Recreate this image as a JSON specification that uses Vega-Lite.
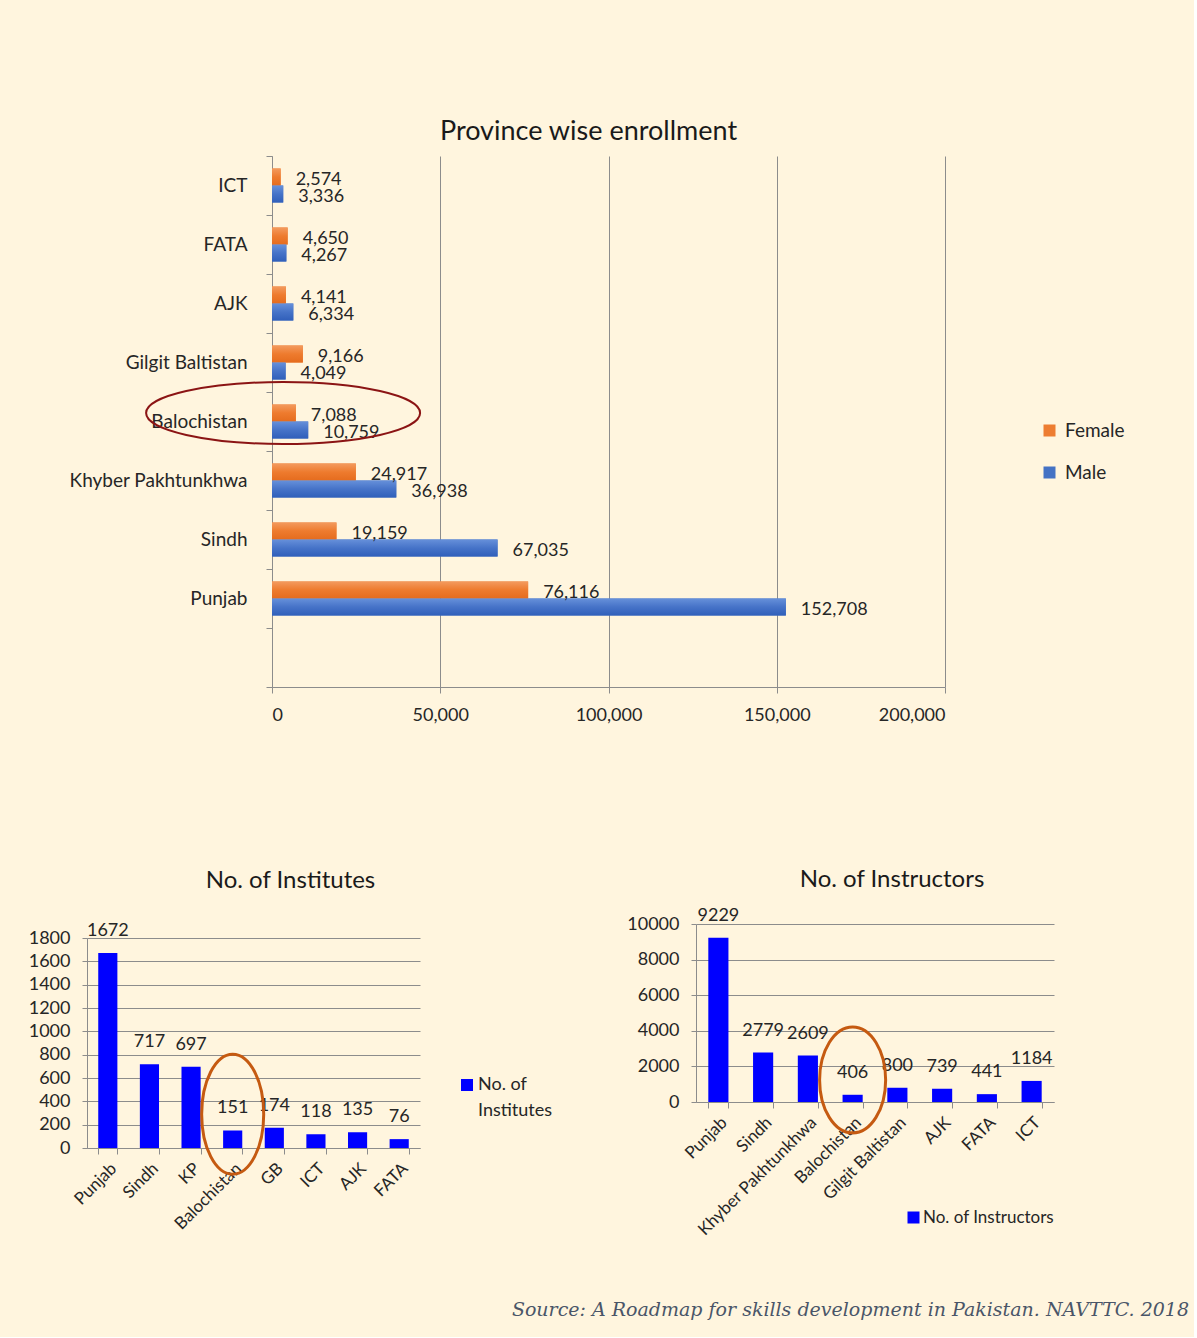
{
  "$schema": "https://vega.github.io/schema/vega-lite/v6.json",
  "background": "#FFF5DE",
  "padding": {"left": 28, "top": 118, "right": 5, "bottom": 16},
  "datasets": {
    "enrollment": [
      {"province": "ICT", "gender": "Female", "count": 2574},
      {"province": "ICT", "gender": "Male", "count": 3336},
      {"province": "FATA", "gender": "Female", "count": 4650},
      {"province": "FATA", "gender": "Male", "count": 4267},
      {"province": "AJK", "gender": "Female", "count": 4141},
      {"province": "AJK", "gender": "Male", "count": 6334},
      {"province": "Gilgit Baltistan", "gender": "Female", "count": 9166},
      {"province": "Gilgit Baltistan", "gender": "Male", "count": 4049},
      {"province": "Balochistan", "gender": "Female", "count": 7088},
      {"province": "Balochistan", "gender": "Male", "count": 10759},
      {"province": "Khyber Pakhtunkhwa", "gender": "Female", "count": 24917},
      {"province": "Khyber Pakhtunkhwa", "gender": "Male", "count": 36938},
      {"province": "Sindh", "gender": "Female", "count": 19159},
      {"province": "Sindh", "gender": "Male", "count": 67035},
      {"province": "Punjab", "gender": "Female", "count": 76116},
      {"province": "Punjab", "gender": "Male", "count": 152708}
    ],
    "institutes": [
      {"province": "Punjab", "value": 1672},
      {"province": "Sindh", "value": 717},
      {"province": "KP", "value": 697},
      {"province": "Balochistan", "value": 151},
      {"province": "GB", "value": 174},
      {"province": "ICT", "value": 118},
      {"province": "AJK", "value": 135},
      {"province": "FATA", "value": 76}
    ],
    "instructors": [
      {"province": "Punjab", "value": 9229},
      {"province": "Sindh", "value": 2779},
      {"province": "Khyber Pakhtunkhwa", "value": 2609},
      {"province": "Balochistan", "value": 406},
      {"province": "Gilgit Baltistan", "value": 800},
      {"province": "AJK", "value": 739},
      {"province": "FATA", "value": 441},
      {"province": "ICT", "value": 1184}
    ]
  },
  "title": {
    "text": "Source: A Roadmap for skills development in Pakistan. NAVTTC. 2018",
    "orient": "bottom",
    "anchor": "end",
    "frame": "bounds",
    "font": "DejaVu Serif",
    "fontStyle": "italic",
    "fontSize": 19,
    "fontWeight": "normal",
    "color": "#4A5568",
    "offset": 63,
    "dx": 64
  },
  "spacing": 143,
  "resolve": {"scale": {"color": "independent"}, "legend": {"color": "independent"}},
  "vconcat": [
    {
      "spacing": -20,
      "resolve": {"scale": {"color": "independent"}, "legend": {"color": "independent"}},
      "hconcat": [
        {
          "width": 1,
          "height": 1,
          "data": {"values": []},
          "mark": "text",
          "encoding": {}
        },
        {
          "width": 673,
          "height": 531,
          "title": {"text": "Province wise enrollment", "fontSize": 27, "anchor": "middle", "dx": -20, "offset": 1},
          "data": {"name": "enrollment"},
          "encoding": {
            "y": {
              "field": "province",
              "type": "nominal",
              "scale": {
                "domain": ["ICT", "FATA", "AJK", "Gilgit Baltistan", "Balochistan", "Khyber Pakhtunkhwa", "Sindh", "Punjab", " "],
                "paddingInner": 0,
                "paddingOuter": 0
              },
              "axis": {"title": null, "tickBand": "extent", "tickSize": 6, "labelFontSize": 19, "labelPadding": 19, "grid": false}
            },
            "yOffset": {
              "field": "gender",
              "type": "nominal",
              "sort": ["Female", "Male"],
              "scale": {"paddingInner": 0, "paddingOuter": 0.735}
            },
            "x": {
              "field": "count",
              "type": "quantitative",
              "scale": {"domain": [0, 200000], "nice": false},
              "axis": {"title": null, "values": [0, 50000, 100000, 150000, 200000], "format": ",.0f", "grid": true, "tickSize": 6, "labelFontSize": 18, "labelPadding": 13}
            }
          },
          "layer": [
            {
              "mark": {"type": "bar"},
              "encoding": {
                "color": {
                  "field": "gender",
                  "type": "nominal",
                  "scale": {"domain": ["Female", "Male"], "range": ["#ED7D31", "#4472C4"]},
                  "legend": {"title": null, "orient": "none", "legendX": 768, "legendY": 265, "symbolType": "square", "symbolSize": 144, "symbolStrokeWidth": 0, "labelFontSize": 19, "rowPadding": 22, "padding": 0, "labelOffset": 6}
                }
              }
            },
            {
              "transform": [{"filter": "datum.gender === 'Female'"}],
              "mark": {
                "type": "bar",
                "color": {"gradient": "linear", "x1": 0, "y1": 0, "x2": 0, "y2": 1,
                  "stops": [{"offset": 0, "color": "#F39A5E"}, {"offset": 0.5, "color": "#EE7B2E"}, {"offset": 1, "color": "#E56C1E"}]}
              }
            },
            {
              "transform": [{"filter": "datum.gender === 'Male'"}],
              "mark": {
                "type": "bar",
                "color": {"gradient": "linear", "x1": 0, "y1": 0, "x2": 0, "y2": 1,
                  "stops": [{"offset": 0, "color": "#6690DA"}, {"offset": 0.5, "color": "#4673C8"}, {"offset": 1, "color": "#305FBA"}]}
              }
            },
            {
              "mark": {"type": "text", "align": "left", "baseline": "middle", "dx": 15, "dy": 3, "fontSize": 18, "color": "#262626"},
              "encoding": {"text": {"field": "count", "type": "quantitative", "format": ",.0f"}}
            },
            {
              "data": {"values": [{"province": "Balochistan", "gender": "Female", "count": 3300}]},
              "mark": {
                "type": "point",
                "shape": "M1,0C1,0.125,0.552,0.226,0,0.226C-0.552,0.226,-1,0.125,-1,0C-1,-0.125,-0.552,-0.226,0,-0.226C0.552,-0.226,1,-0.125,1,0Z",
                "size": 75076,
                "filled": false,
                "stroke": "#8B1414",
                "strokeWidth": 2,
                "opacity": 1
              }
            }
          ]
        }
      ]
    },
    {
      "spacing": 73,
      "resolve": {"scale": {"color": "independent"}, "legend": {"color": "independent"}},
      "hconcat": [
        {
          "spacing": -57,
          "resolve": {"scale": {"color": "independent"}, "legend": {"color": "independent"}},
          "vconcat": [
            {
              "width": 1,
              "height": 1,
              "data": {"values": []},
              "mark": "text",
              "encoding": {}
            },
            {
              "width": 333,
              "height": 210,
              "title": {"text": "No. of Institutes", "fontSize": 24, "anchor": "middle", "dx": 37, "offset": 29},
              "data": {"name": "institutes"},
              "encoding": {
                "x": {
                  "field": "province",
                  "type": "nominal",
                  "sort": null,
                  "scale": {"paddingInner": 0.54, "paddingOuter": 0.27},
                  "axis": {"title": null, "labelAngle": -45, "tickBand": "extent", "tickSize": 6, "labelFontSize": 17, "labelPadding": 6}
                },
                "y": {
                  "field": "value",
                  "type": "quantitative",
                  "scale": {"domain": [0, 1800], "nice": false},
                  "axis": {"title": null, "values": [0, 200, 400, 600, 800, 1000, 1200, 1400, 1600, 1800], "format": "d", "grid": true, "tickSize": 5, "labelFontSize": 18, "labelPadding": 12}
                }
              },
              "layer": [
                {
                  "mark": {"type": "bar"},
                  "encoding": {
                    "color": {
                      "datum": "No. of Institutes",
                      "scale": {"range": ["#0000FF"]},
                      "legend": {
                        "title": null, "orient": "none", "legendX": 371, "legendY": 138,
                        "symbolType": "square", "symbolSize": 144, "symbolStrokeWidth": 0,
                        "labelFontSize": 18, "padding": 0, "labelOffset": 2, "labelLimit": 200,
                        "labelExpr": "['No. of', 'Institutes']", "labelBaseline": "top",
                        "encode": {"labels": {"update": {"dy": {"value": -9}, "lineHeight": {"value": 26}}}}
                      }
                    }
                  }
                },
                {
                  "mark": {"type": "text", "baseline": "middle", "dy": -22, "fontSize": 18, "color": "#262626"},
                  "encoding": {"text": {"field": "value", "type": "quantitative", "format": "d"}}
                },
                {
                  "data": {"values": [{"province": "Balochistan", "value": 290}]},
                  "mark": {
                    "type": "point",
                    "shape": "M0.517,0C0.517,0.552,0.285,1,0,1C-0.285,1,-0.517,0.552,-0.517,0C-0.517,-0.552,-0.285,-1,0,-1C0.285,-1,0.517,-0.552,0.517,0Z",
                    "size": 14400,
                    "filled": false,
                    "stroke": "#C55A11",
                    "strokeWidth": 3,
                    "opacity": 1
                  }
                }
              ]
            }
          ]
        },
        {
          "width": 358,
          "height": 178,
          "title": {"text": "No. of Instructors", "fontSize": 24, "anchor": "middle", "dx": 17, "offset": 15},
          "data": {"name": "instructors"},
          "encoding": {
            "x": {
              "field": "province",
              "type": "nominal",
              "sort": null,
              "scale": {"paddingInner": 0.55, "paddingOuter": 0.275},
              "axis": {"title": null, "labelAngle": -45, "tickBand": "extent", "tickSize": 6, "labelFontSize": 17, "labelPadding": 6}
            },
            "y": {
              "field": "value",
              "type": "quantitative",
              "scale": {"domain": [0, 10000], "nice": false},
              "axis": {"title": null, "values": [0, 2000, 4000, 6000, 8000, 10000], "format": "d", "grid": true, "tickSize": 5, "labelFontSize": 18, "labelPadding": 12}
            }
          },
          "layer": [
            {
              "mark": {"type": "bar"},
              "encoding": {
                "color": {
                  "datum": "No. of Instructors",
                  "scale": {"range": ["#0000FF"]},
                  "legend": {"title": null, "orient": "none", "legendX": 209, "legendY": 285, "symbolType": "square", "symbolSize": 144, "symbolStrokeWidth": 0, "labelFontSize": 17, "padding": 0, "labelOffset": 1, "labelLimit": 300}
                }
              }
            },
            {
              "mark": {"type": "text", "baseline": "middle", "dy": -22, "fontSize": 18, "color": "#262626"},
              "encoding": {"text": {"field": "value", "type": "quantitative", "format": "d"}}
            },
            {
              "data": {"values": [{"province": "Balochistan", "value": 1240}]},
              "mark": {
                "type": "point",
                "shape": "M0.623,0C0.623,0.552,0.344,1,0,1C-0.344,1,-0.623,0.552,-0.623,0C-0.623,-0.552,-0.344,-1,0,-1C0.344,-1,0.623,-0.552,0.623,0Z",
                "size": 11236,
                "filled": false,
                "stroke": "#C55A11",
                "strokeWidth": 3,
                "opacity": 1
              }
            }
          ]
        }
      ]
    }
  ],
  "config": {
    "font": "Lato",
    "view": {"stroke": null},
    "axis": {
      "labelColor": "#262626",
      "labelFont": "Lato",
      "domainColor": "#8C8C8C",
      "tickColor": "#8C8C8C",
      "gridColor": "#8C8C8C"
    },
    "title": {"font": "Lato", "fontWeight": "normal", "color": "#1A1A1A"},
    "legend": {"labelFont": "Lato", "labelColor": "#262626"}
  }
}
